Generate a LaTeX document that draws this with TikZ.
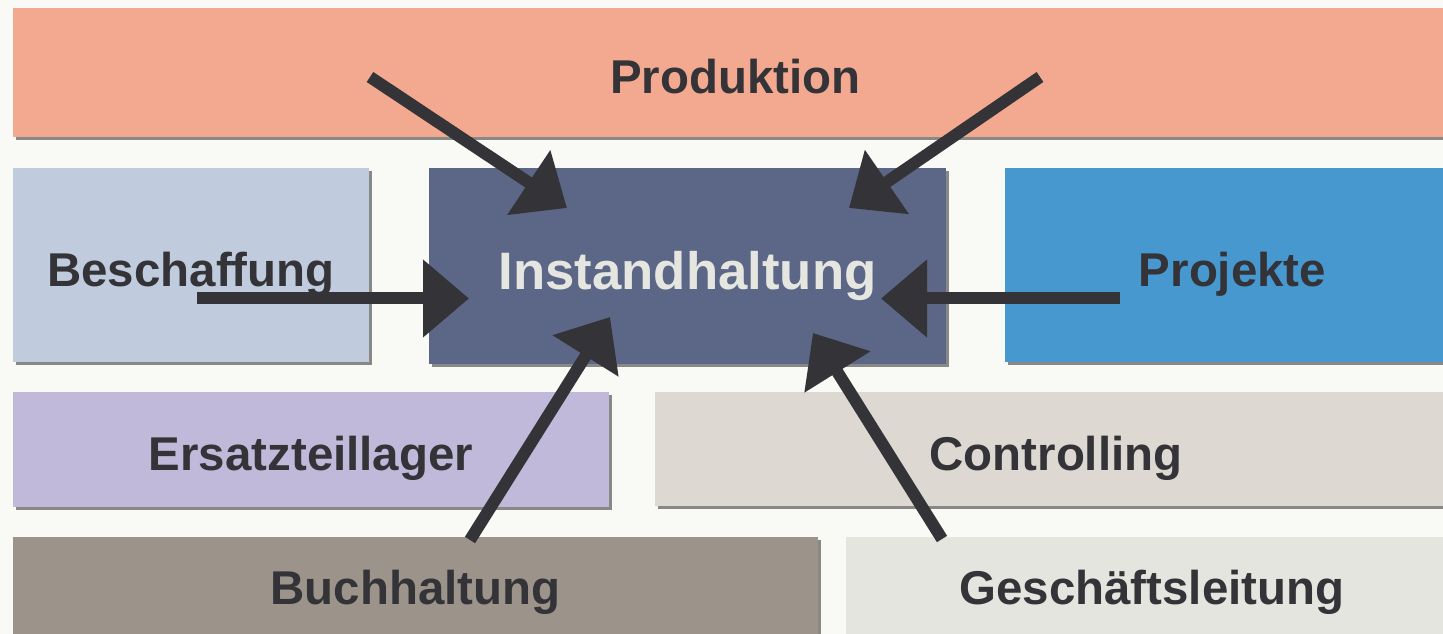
\documentclass[tikz,border=0pt]{standalone}
\usepackage{fontspec}
\setmainfont{Liberation Sans}
\usepackage{tikz}
\usetikzlibrary{arrows.meta,shadows}

\definecolor{hgrund}{HTML}{F9F9F6}
\definecolor{schrift}{HTML}{333338}
\definecolor{cprod}{HTML}{F2A990}
\definecolor{cbesch}{HTML}{C0CBDD}
\definecolor{cinst}{HTML}{5C6686}
\definecolor{cproj}{HTML}{4898D0}
\definecolor{cersatz}{HTML}{C0B9D9}
\definecolor{ccontr}{HTML}{DDD8D2}
\definecolor{cbuch}{HTML}{9C948A}
\definecolor{cgesch}{HTML}{E5E5E0}
\definecolor{cinsttext}{HTML}{E6E6E0}

\tikzset{
	abteilung/.style={shape=rectangle,inner sep=0pt,text=schrift,
		text height=24pt,text depth=0pt,
		font=\bfseries\fontsize{27}{30}\selectfont,
		drop shadow={shadow xshift=0.06cm,shadow yshift=-0.06cm,opacity=0.45,fill=black}},
	pfeil/.style={draw=schrift,line width=0.24cm,-{Triangle[length=0.92cm,width=1.5cm]}}
}

\begin{document}
\begin{tikzpicture}[x=0.02cm,y=-0.02cm]
	\useasboundingbox (0,0) rectangle (1443,634);
	\clip (0,0) rectangle (1443,634);
	\fill[hgrund] (0,0) rectangle (1443,634);
	\node[abteilung,fill=cprod,minimum width=28.9cm,minimum height=2.58cm] (prod) at (735.5, 72.5) {Produktion};
	\node[abteilung,fill=cbesch,minimum width=7.12cm,minimum height=3.88cm] (besch) at (191, 265) {Beschaffung};
	\node[abteilung,fill=cinst,text=cinsttext,font=\bfseries\fontsize{30}{34}\selectfont,text height=27pt,minimum width=10.34cm,minimum height=3.92cm] (inst) at (687.5, 266) {Instandhaltung};
	\node[abteilung,fill=cproj,minimum width=9.1cm,minimum height=3.88cm] (proj) at (1232.5, 265) {Projekte};
	\node[abteilung,fill=cersatz,minimum width=11.92cm,minimum height=2.3cm] (ersatz) at (311, 449.5) {Ersatzteillager};
	\node[abteilung,fill=ccontr,minimum width=16.04cm,minimum height=2.28cm] (contr) at (1056, 449) {Controlling};
	\node[abteilung,fill=cbuch,text depth=8pt,minimum width=16.1cm,minimum height=2.12cm] (buch) at (415.5, 590) {Buchhaltung};
	\node[abteilung,fill=cgesch,text depth=8pt,minimum width=12.24cm,minimum height=2.12cm] (gesch) at (1152, 590) {Geschäftsleitung};
	% Pfeile zur Instandhaltung
	\coordinate (prodl) at (370, 77);
	\coordinate (prodr) at (1040, 77);
	\coordinate (beschp) at (197, 298.5);
	\coordinate (projp) at (1120, 298.5);
	\coordinate (buchp) at (470, 540);
	\coordinate (geschp) at (942, 539);
	\coordinate (inst1) at (567, 208);
	\coordinate (inst2) at (849, 208);
	\coordinate (inst3) at (469, 298.5);
	\coordinate (inst4) at (881, 298.5);
	\coordinate (inst5) at (610, 317);
	\coordinate (inst6) at (813, 333);
	\draw[pfeil] (prodl) -- (inst1);
	\draw[pfeil] (prodr) -- (inst2);
	\draw[pfeil] (beschp) -- (inst3);
	\draw[pfeil] (projp) -- (inst4);
	\draw[pfeil] (buchp) -- (inst5);
	\draw[pfeil] (geschp) -- (inst6);
\end{tikzpicture}
\end{document}
